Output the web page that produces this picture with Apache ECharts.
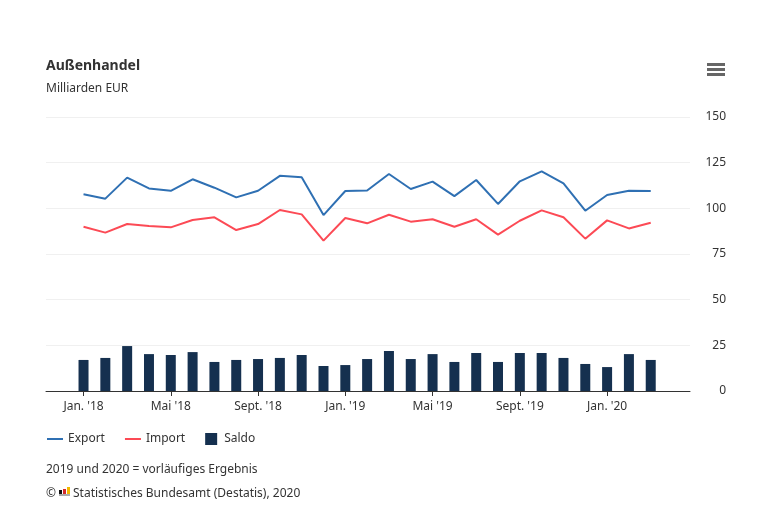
<!DOCTYPE html>
<html>
<head>
<meta charset="utf-8">
<script src="https://cdn.jsdelivr.net/npm/echarts@6/dist/echarts.min.js"></script>
<style>
html,body{margin:0;padding:0;background:#fff;}
#chart{width:759px;height:516px;}
</style>
</head>
<body>
<div id="chart"></div>
<script>
// Month index 0 = Jan. 2018 ... 26 = Mar. 2020
var months = ['Jan. \'18','Feb. \'18','Mär. \'18','Apr. \'18','Mai \'18','Jun. \'18','Jul. \'18','Aug. \'18','Sept. \'18','Okt. \'18','Nov. \'18','Dez. \'18',
              'Jan. \'19','Feb. \'19','Mär. \'19','Apr. \'19','Mai \'19','Jun. \'19','Jul. \'19','Aug. \'19','Sept. \'19','Okt. \'19','Nov. \'19','Dez. \'19',
              'Jan. \'20','Feb. \'20','Mär. \'20'];
var exportValues = [107.7,105.3,116.8,110.9,109.6,115.9,111.3,106.0,109.6,117.8,117.0,96.3,
                    109.5,109.8,118.8,110.6,114.6,106.7,115.5,102.4,114.8,120.2,113.7,98.7,
                    107.3,109.6,109.5];
var importValues = [89.9,86.7,91.4,90.3,89.6,93.6,95.1,88.1,91.4,99.1,96.7,82.3,
                    94.7,91.8,96.5,92.7,94.0,89.9,94.0,85.6,93.2,98.9,95.1,83.4,
                    93.4,89.0,92.1];
var saldoValues = [17.0,18.1,24.6,20.2,19.7,21.3,15.9,17.0,17.5,18.1,19.7,13.7,
                   14.2,17.5,21.9,17.5,20.2,15.9,20.8,15.9,20.8,20.8,18.1,14.8,
                   13.1,20.2,17.0];
var tickMonths = [0,4,8,12,16,20,24];
var yTicks = [0,25,50,75,100,125,150];

function pairs(vals){ return vals.map(function(v,i){ return [i, v]; }); }

var FONT = '"Noto Sans", "Open Sans", sans-serif';
var chart = echarts.init(document.getElementById('chart'), null, {renderer:'canvas'});
chart.setOption({
  backgroundColor:'#ffffff',
  animation:false,
  textStyle:{fontFamily:FONT},
  title:{
    text:'Außenhandel',
    subtext:'Milliarden EUR',
    left:41, top:54,
    textStyle:{fontFamily:FONT,fontSize:14,fontWeight:'bold',color:'#333333'},
    subtextStyle:{fontFamily:FONT,fontSize:12,color:'#333333'},
    itemGap:10
  },
  grid:{left:46, right:69, top:117, bottom:125},
  xAxis:{
    type:'value',
    min:-1.72, max:27.8,
    axisLine:{show:true,lineStyle:{color:'#333333',width:1}},
    axisTick:{show:true,customValues:tickMonths,length:5,lineStyle:{color:'#333333'}},
    axisLabel:{customValues:tickMonths,formatter:function(v){return months[Math.round(v)];},
               color:'#333333',fontSize:12,fontFamily:FONT,margin:10},
    splitLine:{show:false}
  },
  yAxis:{
    type:'value',
    position:'right',
    min:0, max:150, interval:25,
    axisLine:{show:false},
    axisTick:{show:false},
    axisLabel:{color:'#333333',fontSize:12,fontFamily:FONT,align:'right',margin:36,padding:[2,0,0,0]},
    splitLine:{lineStyle:{color:'#f0f0f0',width:1}}
  },
  legend:{
    left:42, top:428,
    itemWidth:16, itemHeight:12, itemGap:20,
    textStyle:{fontFamily:FONT,fontSize:12,color:'#333333'},
    data:[
      {name:'Export', icon:'path://M0,5H16V7H0Z'},
      {name:'Import', icon:'path://M0,5H16V7H0Z'},
      {name:'Saldo', icon:'path://M2,0H14V12H2Z'}
    ]
  },
  series:[
    {name:'Saldo',type:'bar',data:pairs(saldoValues),barWidth:10,
     itemStyle:{color:'#15304f'},z:1},
    {name:'Export',type:'line',data:pairs(exportValues),symbol:'none',
     lineStyle:{color:'#2f70b3',width:2},itemStyle:{color:'#2f70b3'},z:3},
    {name:'Import',type:'line',data:pairs(importValues),symbol:'none',
     lineStyle:{color:'#fc4a55',width:2},itemStyle:{color:'#fc4a55'},z:3}
  ],
  graphic:[
    {type:'rect',shape:{x:707,y:63,width:18,height:3},style:{fill:'#666666'}},
    {type:'rect',shape:{x:707,y:68,width:18,height:3},style:{fill:'#666666'}},
    {type:'rect',shape:{x:707,y:73,width:18,height:3},style:{fill:'#666666'}},
    {type:'text',left:46,top:464,style:{text:'2019 und 2020 = vorläufiges Ergebnis',font:'12px '+FONT,fill:'#333333'}},
    {type:'text',left:46,top:488,style:{text:'©',font:'12px '+FONT,fill:'#333333'}},
    {type:'rect',shape:{x:59,y:490,width:3,height:4},style:{fill:'#111111'}},
    {type:'rect',shape:{x:63,y:489,width:3,height:5},style:{fill:'#d42a2a'}},
    {type:'rect',shape:{x:67,y:487,width:3,height:7},style:{fill:'#f2b800'}},
    {type:'rect',shape:{x:59,y:494,width:11,height:2},style:{fill:'#aaaaaa'}},
    {type:'text',left:73,top:488,style:{text:'Statistisches Bundesamt (Destatis), 2020',font:'12px '+FONT,fill:'#333333'}}
  ]
});
</script>
</body>
</html>
